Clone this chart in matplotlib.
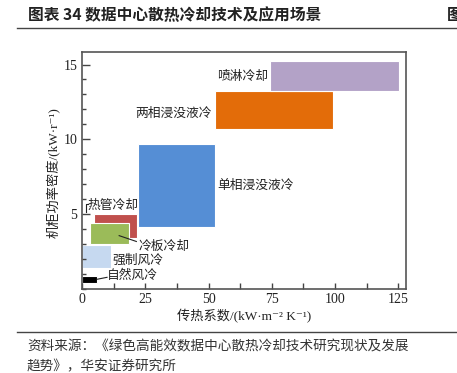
import matplotlib.pyplot as plt
from matplotlib.ticker import MultipleLocator
import numpy as np

# cooling technologies: heat transfer coefficient range (x) vs rack power density range (y)
techs = ['自然风冷', '强制风冷', '热管冷却', '冷板冷却', '单相浸没液冷', '两相浸没液冷', '喷淋冷却']
x_lo = np.array([0.0, 0.0, 4.6, 3.0, 22.2, 52.5, 74.1])
x_hi = np.array([5.9, 11.2, 21.6, 18.5, 52.6, 99.0, 125.5])
y_lo = np.array([0.4, 1.4, 3.4, 3.0, 4.1, 10.7, 13.2])
y_hi = np.array([0.85, 2.9, 5.0, 4.4, 9.7, 13.2, 15.25])
colors = ['#000000', '#c6d9f0', '#c0504d', '#9bbb59', '#558ed5', '#e36c09', '#b3a2c7']

cjk = ['Noto Sans CJK SC', 'DejaVu Sans']
num = ['Liberation Serif', 'Noto Sans CJK SC', 'DejaVu Sans']

fig = plt.figure(figsize=(4.57, 3.73), dpi=100)
ax = fig.add_axes([0.180, 0.2265, 0.708, 0.635])

ax.bar(x_lo, y_hi - y_lo, width=x_hi - x_lo, bottom=y_lo, align='edge',
       color=colors, edgecolor='white', linewidth=0.8)

ax.set_xlim(0, 128)
ax.set_ylim(0, 15.86)
ax.xaxis.set_major_locator(MultipleLocator(25))
ax.xaxis.set_minor_locator(MultipleLocator(12.5))
ax.yaxis.set_major_locator(MultipleLocator(5))
ax.yaxis.set_minor_locator(MultipleLocator(1))
ax.set_yticks([5, 10, 15])
ax.tick_params(which='both', direction='in', colors='#444444', labelcolor='#222222')
ax.tick_params(axis='x', which='both', length=4, width=1)
ax.tick_params(axis='y', which='major', length=6, width=1)
ax.tick_params(axis='y', which='minor', length=3, width=1)
for lab in ax.get_xticklabels() + ax.get_yticklabels():
    lab.set_family(num)
    lab.set_fontsize(10)
for s in ax.spines.values():
    s.set_color('#555555')
    s.set_linewidth(1.2)

ax.set_xlabel('传热系数/(kW·m⁻² K⁻¹)', family=num, fontsize=9.5, color='#222222', labelpad=2)
ax.set_ylabel('机柜功率密度/(kW·r⁻¹)', family=num, fontsize=9.5, color='#222222')
ax.yaxis.set_label_coords(-0.066, 0.49)

lab_kw = dict(family=cjk, fontsize=9.2, color='#222222', va='center')
ax.text(73.5, 14.2, '喷淋冷却', ha='right', **lab_kw)
ax.text(51.4, 11.7, '两相浸没液冷', ha='right', **lab_kw)
ax.text(53.3, 6.9, '单相浸没液冷', ha='left', **lab_kw)
ax.text(1.9, 5.55, '热管冷却', ha='left', **lab_kw)
ax.text(22.1, 2.8, '冷板冷却', ha='left', **lab_kw)
ax.text(12.0, 1.86, '强制风冷', ha='left', **lab_kw)
ax.text(9.9, 0.86, '自然风冷', ha='left', **lab_kw)

# leader lines
ax.plot([14.6, 21.4], [3.54, 3.15], color='#222222', lw=0.8)
ax.plot([5.9, 9.8], [0.62, 0.75], color='#222222', lw=0.8)
ax.plot([1.4, 1.4, 2.2], [5.1, 5.65, 5.65], color='#222222', lw=0.8)

# header and footer
fig.text(28 / 457, 1 - 15 / 373, '图表 34 数据中心散热冷却技术及应用场景', family=cjk,
         fontsize=11.3, weight='bold', color='#222222', va='center', ha='left')
fig.text(447 / 457, 1 - 15 / 373, '图', family=cjk, fontsize=11.3, weight='bold',
         color='#222222', va='center', ha='left')
fig.add_artist(plt.Line2D([17 / 457, 1], [1 - 28.3 / 373] * 2, color='#444444', lw=1.0))
fig.add_artist(plt.Line2D([17 / 457, 1], [1 - 331.7 / 373] * 2, color='#444444', lw=1.0))
fig.text(27 / 457, 1 - 346.7 / 373, '资料来源：《绿色高能效数据中心散热冷却技术研究现状及发展',
         family=cjk, fontsize=9.8, color='#333333', va='center', ha='left')
fig.text(27 / 457, 1 - 366 / 373, '趋势》，华安证券研究所',
         family=cjk, fontsize=9.8, color='#333333', va='center', ha='left')

fig.savefig('out.png', dpi=100)
